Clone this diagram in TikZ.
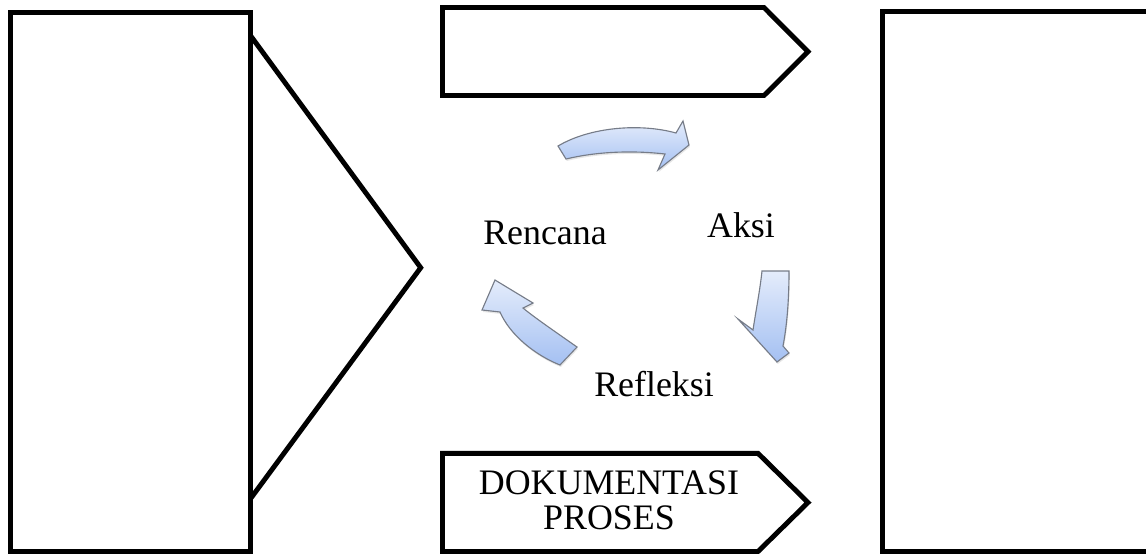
\documentclass[tikz,border=0pt]{standalone}
\usepackage{fontspec}
\setmainfont{Liberation Serif}
\usepackage{tikz}
\usetikzlibrary{positioning,shadows}
\definecolor{cycleblue}{RGB}{164,192,242}
\definecolor{cyclelight}{RGB}{228,236,251}
\definecolor{cycleedge}{RGB}{118,124,136}
\tikzstyle{outline} = [line width=3.5pt, draw=black, line join=miter]
\tikzstyle{cyclearrow} = [draw=cycleedge, line width=0.8pt, top color=cyclelight, bottom color=cycleblue, drop shadow={opacity=0.2, shadow xshift=0.6pt, shadow yshift=-1.4pt}]
\tikzstyle{word} = [font=\fontsize{25.5}{25}\selectfont, inner sep=0pt, anchor=base]
\def\bottomy{551.5}

\begin{document}
\begin{tikzpicture}[x=0.025cm, y=-0.025cm]
\useasboundingbox (0,0) rectangle (1146,554);
\clip (0,0) rectangle (1146,554);

% left block with its chevron
\draw [outline] (10.8,12.5) rectangle (250.8,\bottomy);
\draw [outline] (250.8,36) -- (420.7,267.7) -- (250.8,498.3);

% right block
\draw [outline] (882.5,11.8) rectangle (1170,\bottomy);

% signal boxes
\draw [outline] (442.5,7.5) -- (764,7.5) -- (808,51.7) -- (764,95.5) -- (442.5,95.5) -- cycle;
\draw [outline] (442.5,453.3) -- (758,453.3) -- (808,502.5) -- (758,\bottomy) -- (442.5,\bottomy) -- cycle;
\node (dokumentasi) [word, anchor=center, align=center] at (609,500) {DOKUMENTASI\\PROSES};

% cycle
\node (rencana) [word] at (545,244) {Rencana};
\node (aksi) [word] at (741,237) {Aksi};
\node (refleksi) [word] at (654,396) {Refleksi};

\draw [cyclearrow] (558,146) .. controls (590,127) and (640,123) .. (676,133) -- (683,121) -- (689,145)
  -- (658,170) -- (665,154) .. controls (630,150) and (595,152) .. (566,159) -- cycle;
\draw [cyclearrow] (762,271) -- (789,271) .. controls (789,300) and (787,325) .. (783,346) -- (789,353)
  -- (777,362) -- (738,319) -- (753,330) .. controls (756,310) and (760,290) .. (762,271) -- cycle;
\draw [cyclearrow] (577,347) .. controls (560,335) and (535,318) .. (523,308) -- (533,303) -- (495,280)
  -- (482,310) -- (500,312) .. controls (510,335) and (535,355) .. (560,365) -- cycle;

\end{tikzpicture}
\end{document}
